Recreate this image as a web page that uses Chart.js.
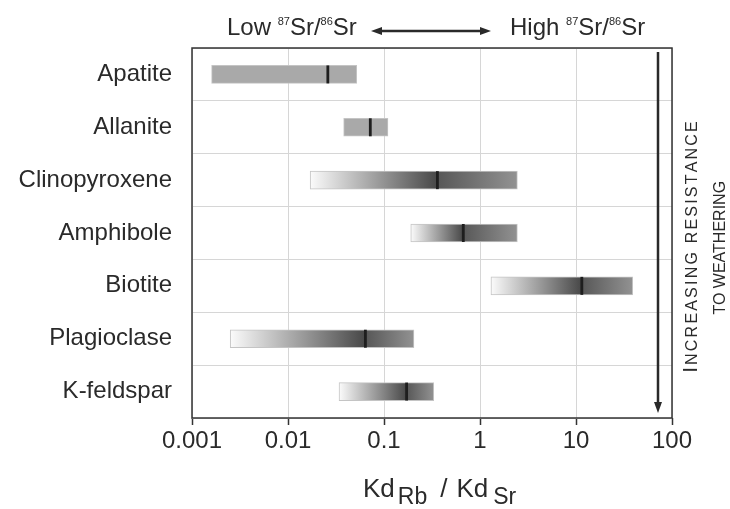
<!DOCTYPE html>
<html>
<head>
<meta charset="utf-8">
<script src="https://cdn.jsdelivr.net/npm/chart.js@4/dist/chart.umd.min.js"></script>
<style>
  html, body { margin: 0; padding: 0; background: #fff; }
  #wrap { width: 730px; height: 509px; position: relative; }
</style>
</head>
<body>
<div id="wrap"><canvas id="chart"></canvas></div>
<script>
const minerals = ['Apatite', 'Allanite', 'Clinopyroxene', 'Amphibole', 'Biotite', 'Plagioclase', 'K-feldspar'];
const kdLow = [0.0016, 0.038, 0.017, 0.19, 1.3, 0.0025, 0.034];
const kdHigh = [0.052, 0.11, 2.45, 2.45, 39, 0.205, 0.33];
const kdTypical = [0.026, 0.072, 0.36, 0.67, 11.5, 0.064, 0.172];
const shaded = [false, false, true, true, true, true, true];
const xTicks = [0.001, 0.01, 0.1, 1, 10, 100];

const FONT = "'Liberation Sans', Arial, sans-serif";
const INK = '#2a2a2a';

// white -> dark at the typical value, then easing back to mid grey at the top end
function barFill(c) {
  const i = c.dataIndex;
  if (i === undefined || !shaded[i]) return '#a9a9a9';
  const x = c.chart.scales.x;
  if (!x || !c.chart.chartArea) return '#888';
  const x0 = x.getPixelForValue(kdLow[i]);
  const x1 = x.getPixelForValue(kdHigh[i]);
  const xm = x.getPixelForValue(kdTypical[i]);
  const f = (xm - x0) / (x1 - x0);
  const g = c.chart.ctx.createLinearGradient(x0, 0, x1, 0);
  g.addColorStop(0, '#fbfbfb');
  g.addColorStop(f, '#474747');
  g.addColorStop(Math.min(1, f + 0.01), '#595959');
  g.addColorStop(1, '#929292');
  return g;
}

// draws runs of text with their own size, vertical offset, gap and letter spacing
function drawRuns(ctx, runs, x, y, align) {
  const runWidth = r => {
    ctx.font = r.size + 'px ' + FONT;
    const sp = r.spacing || 0;
    return [...r.t].reduce((w, ch) => w + ctx.measureText(ch).width + sp, 0) - sp + (r.gap || 0);
  };
  const total = runs.reduce((w, r) => w + runWidth(r), 0);
  let cx = align === 'center' ? x - total / 2 : x;
  ctx.textAlign = 'left';
  ctx.textBaseline = 'alphabetic';
  runs.forEach(r => {
    cx += r.gap || 0;
    ctx.font = r.size + 'px ' + FONT;
    if (r.spacing) {
      [...r.t].forEach(ch => { ctx.fillText(ch, cx, y + (r.dy || 0)); cx += ctx.measureText(ch).width + r.spacing; });
      cx -= r.spacing;
    } else {
      ctx.fillText(r.t, cx, y + (r.dy || 0));
      cx += ctx.measureText(r.t).width;
    }
  });
}

const decorPlugin = {
  id: 'decor',
  afterDatasetsDraw(chart) {
    const { ctx, chartArea: a, scales: { x } } = chart;
    const meta = chart.getDatasetMeta(0);
    ctx.save();
    // typical-value markers
    ctx.strokeStyle = '#1e1e1e';
    ctx.lineWidth = 2.8;
    meta.data.forEach((bar, i) => {
      const px = x.getPixelForValue(kdTypical[i]);
      ctx.beginPath();
      ctx.moveTo(px, bar.y - bar.height / 2);
      ctx.lineTo(px, bar.y + bar.height / 2);
      ctx.stroke();
    });
    // plot frame
    ctx.strokeStyle = '#333';
    ctx.lineWidth = 1.5;
    ctx.strokeRect(a.left, a.top, a.right - a.left, a.bottom - a.top);
    ctx.restore();
  },
  afterDraw(chart) {
    const { ctx, chartArea: a } = chart;
    ctx.save();
    ctx.fillStyle = INK;
    ctx.strokeStyle = INK;

    // top annotation
    const iso = w => [{ t: w + ' ', size: 24 }, { t: '87', size: 11, dy: -10 }, { t: 'Sr/', size: 24 }, { t: '86', size: 11, dy: -10 }, { t: 'Sr', size: 24 }];
    drawRuns(ctx, iso('Low'), 227, 35);
    drawRuns(ctx, iso('High'), 510, 35);
    ctx.lineWidth = 2.5;
    ctx.beginPath(); ctx.moveTo(380, 31); ctx.lineTo(482, 31); ctx.stroke();
    ctx.beginPath(); ctx.moveTo(371, 31); ctx.lineTo(382, 27); ctx.lineTo(382, 35); ctx.closePath(); ctx.fill();
    ctx.beginPath(); ctx.moveTo(491, 31); ctx.lineTo(480, 27); ctx.lineTo(480, 35); ctx.closePath(); ctx.fill();

    // vertical weathering arrow inside the frame
    ctx.lineWidth = 2.5;
    ctx.beginPath(); ctx.moveTo(658, a.top + 4); ctx.lineTo(658, a.bottom - 14); ctx.stroke();
    ctx.beginPath(); ctx.moveTo(658, a.bottom - 5); ctx.lineTo(654, a.bottom - 16); ctx.lineTo(662, a.bottom - 16); ctx.closePath(); ctx.fill();

    // rotated label
    ctx.save();
    ctx.translate(697, 247);
    ctx.rotate(-Math.PI / 2);
    drawRuns(ctx, [{ t: 'I', size: 21 }, { t: 'NCREASING RESISTANCE', size: 16, spacing: 2.2, gap: 2 }], 0, 0, 'center');
    ctx.restore();
    ctx.save();
    ctx.translate(725, 247);
    ctx.rotate(-Math.PI / 2);
    drawRuns(ctx, [{ t: 'TO WEATHERING', size: 16 }], 0, 0, 'center');
    ctx.restore();

    // x axis title
    drawRuns(ctx, [
      { t: 'Kd', size: 26 }, { t: 'Rb', size: 23, dy: 7, gap: 3 },
      { t: '/', size: 26, gap: 13 }, { t: 'Kd', size: 26, gap: 9 }, { t: 'Sr', size: 23, dy: 7, gap: 5 }
    ], 363, 497);
    ctx.restore();
  }
};

new Chart(document.getElementById('chart'), {
  type: 'bar',
  data: {
    labels: minerals,
    datasets: [{
      data: minerals.map((m, i) => [kdLow[i], kdHigh[i]]),
      backgroundColor: barFill,
      borderColor: '#c4c4c4',
      borderWidth: 1,
      borderSkipped: false,
      barThickness: 18,
    }]
  },
  options: {
    indexAxis: 'y',
    responsive: true, maintainAspectRatio: false, animation: false,
    layout: { padding: { top: 48, right: 58, left: 0, bottom: 0 } },
    plugins: { legend: { display: false }, tooltip: { enabled: false } },
    scales: {
      x: {
        type: 'logarithmic', min: 0.001, max: 100,
        afterBuildTicks: s => { s.ticks = xTicks.map(v => ({ value: v })); },
        afterFit: s => { s.height = 91; },
        grid: { color: '#d6d6d6', lineWidth: 1, tickLength: 7, tickColor: '#333', tickWidth: 1.5 },
        border: { display: false },
        ticks: { color: INK, font: { family: FONT, size: 24 }, padding: 2, maxRotation: 0, autoSkip: false,
          callback: v => String(v) }
      },
      y: {
        type: 'category',
        afterFit: s => { s.width = 192; },
        grid: { color: '#d6d6d6', lineWidth: 1, drawTicks: false, offset: true },
        border: { display: false },
        ticks: { color: INK, font: { family: FONT, size: 24 }, padding: 20 }
      }
    }
  },
  plugins: [decorPlugin]
});
</script>
</body>
</html>
